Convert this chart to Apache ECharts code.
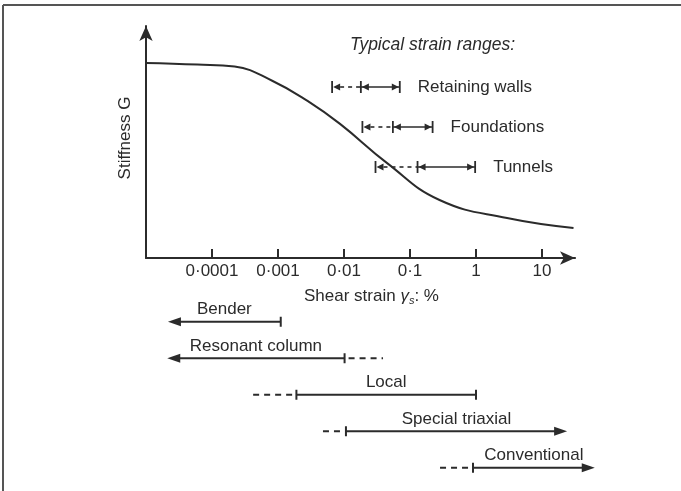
<!DOCTYPE html>
<html>
<head>
<meta charset="utf-8">
<script src="https://cdn.jsdelivr.net/npm/echarts@6/dist/echarts.min.js"></script>
<style>html,body{margin:0;padding:0;background:#fff}#c{width:681px;height:491px}</style>
</head>
<body>
<div id="c"></div>
<script>
// ---- data ----
const strain    = [0.00001, 0.00006, 0.00022, 0.00083, 0.0028, 0.0087, 0.045, 0.28, 2.95, 30];
const stiffness = [84.1, 83.4, 82.5, 76.3, 67.7, 57.8, 40.9, 25.0, 17.2, 12.9];
const tickValues = [0.0001, 0.001, 0.01, 0.1, 1, 10];

const rangeNames = ['Retaining walls', 'Foundations', 'Tunnels'];
const rangeFrom  = [0.0066, 0.019, 0.03];
const rangeMid   = [0.018, 0.055, 0.13];
const rangeTo    = [0.07, 0.22, 0.97];

const instruments = ['Bender', 'Resonant column', 'Local', 'Special triaxial', 'Conventional'];
const dashFrom  = [null, null, 0.00042, 0.0048, 0.285];
const solidFrom = [2.15e-5, 2.1e-5, 0.0019, 0.0107, 0.9];
const solidTo   = [0.0011, 0.0102, 1.0, 24, 63];
const dashTo    = [null, 0.039, null, null, null];
const openFrom  = [true, true, false, false, false];
const openTo    = [false, false, false, true, true];

// ---- style ----
const INK = '#2b2b2b';
const FONT = '"Liberation Sans", Arial, Helvetica, sans-serif';
const FS = 17;
const XMIN = 0.00001, XMAX = 31.6;

function seg(x1, y1, x2, y2, w, dash) {
  const st = { stroke: INK, lineWidth: w };
  if (dash) st.lineDash = dash;
  return { type: 'line', shape: { x1, y1, x2, y2 }, style: st };
}
function tri(pts) {
  return { type: 'polygon', shape: { points: pts }, style: { fill: INK } };
}

function renderRange(params, api) {
  const i = params.dataIndex;
  const a = api.coord([rangeFrom[i], i]);
  const b = api.coord([rangeMid[i], i]);
  const c = api.coord([rangeTo[i], i]);
  const y = a[1];
  const al = 7, ah = 3.5, ch = 6;
  const ch_ = [
    seg(a[0] + 8, y, b[0], y, 1.6, [4, 4]),
    seg(b[0], y, c[0], y, 1.6),
    seg(a[0], y - ch, a[0], y + ch, 1.8),
    seg(b[0], y - ch, b[0], y + ch, 1.8),
    seg(c[0], y - ch, c[0], y + ch, 1.8),
    tri([[a[0] + 1, y], [a[0] + 1 + al, y - ah], [a[0] + 1 + al, y + ah]]),
    tri([[b[0] + 1, y], [b[0] + 1 + al, y - ah], [b[0] + 1 + al, y + ah]]),
    tri([[c[0] - 1, y], [c[0] - 1 - al, y - ah], [c[0] - 1 - al, y + ah]]),
    { type: 'text', x: c[0] + 18, y: y,
      style: { text: rangeNames[i], fill: INK, font: FS + 'px ' + FONT, align: 'left', verticalAlign: 'middle' } }
  ];
  return { type: 'group', children: ch_ };
}

function renderInstrument(params, api) {
  const i = params.dataIndex;
  const p0 = api.coord([solidFrom[i], i]);
  const p1 = api.coord([solidTo[i], i]);
  const y = p0[1];
  const al = 13, ah = 4.5, ch = 5;
  const kids = [];
  let x0 = p0[0], x1 = p1[0];
  if (openFrom[i]) {
    kids.push(tri([[x0, y], [x0 + al, y - ah], [x0 + al, y + ah]]));
    kids.push(seg(x0 + al - 1, y, x1, y, 2.2));
  } else if (openTo[i]) {
    kids.push(tri([[x1, y], [x1 - al, y - ah], [x1 - al, y + ah]]));
    kids.push(seg(x0, y, x1 - al + 1, y, 2.2));
  } else {
    kids.push(seg(x0, y, x1, y, 2.2));
  }
  if (!openFrom[i]) kids.push(seg(x0, y - ch, x0, y + ch, 2));
  if (!openTo[i]) kids.push(seg(x1, y - ch, x1, y + ch, 2));
  if (dashFrom[i] != null) {
    const d = api.coord([dashFrom[i], i]);
    kids.push(seg(d[0], y, x0 - 2, y, 2, [6, 5]));
  }
  if (dashTo[i] != null) {
    const d = api.coord([dashTo[i], i]);
    kids.push(seg(x1 + 4, y, d[0], y, 2, [6, 5]));
  }
  kids.push({ type: 'text', x: (x0 + x1) / 2, y: y - 12,
    style: { text: instruments[i], fill: INK, font: FS + 'px ' + FONT, align: 'center', verticalAlign: 'middle' } });
  return { type: 'group', children: kids };
}

const hiddenX = (gi) => ({
  type: 'log', gridIndex: gi, min: XMIN, max: XMAX, show: false,
  axisLine: { show: false }, axisTick: { show: false }, axisLabel: { show: false }, splitLine: { show: false }
});
const hiddenY = (gi, cats) => ({
  type: 'category', gridIndex: gi, data: cats, inverse: true, show: false,
  axisLine: { show: false }, axisTick: { show: false }, axisLabel: { show: false }, splitLine: { show: false }
});

const chart = echarts.init(document.getElementById('c'), null, { renderer: 'canvas' });
chart.setOption({
  animation: false,
  backgroundColor: '#fff',
  textStyle: { fontFamily: FONT, color: INK },
  title: {
    text: 'Typical strain ranges:', left: 350, top: 36, padding: 0,
    textStyle: { fontSize: 17.5, fontStyle: 'italic', fontWeight: 'normal', color: INK, fontFamily: FONT }
  },
  grid: [
    { left: 146, top: 26, width: 429, height: 232 },
    { left: 146, top: 67, width: 429, height: 120 },
    { left: 146, top: 303.5, width: 429, height: 182.5 }
  ],
  xAxis: [
    {
      type: 'log', gridIndex: 0, min: XMIN, max: XMAX, logBase: 10,
      axisLine: { onZero: false, lineStyle: { color: INK, width: 2.2 }, symbol: ['none', 'arrow'], symbolSize: [10, 15] },
      axisTick: { customValues: tickValues, inside: true, length: 9, lineStyle: { color: INK, width: 2 } },
      axisLabel: { customValues: tickValues, color: INK, fontSize: FS, fontFamily: FONT, margin: 5,
        formatter: v => String(v).replace('.', '·') },
      splitLine: { show: false }, minorTick: { show: false },
      name: '{n|Shear strain }{g|γ}{s|s}{n|: %}',
      nameLocation: 'middle', nameGap: 28,
      nameTextStyle: {
        padding: [0, 0, 0, 22],
        rich: {
          n: { fontSize: FS, fontFamily: FONT, color: INK, lineHeight: 20 },
          g: { fontSize: FS, fontFamily: FONT, color: INK, fontStyle: 'italic', lineHeight: 20 },
          s: { fontSize: 11, fontFamily: FONT, color: INK, fontStyle: 'italic', verticalAlign: 'bottom', lineHeight: 20 }
        }
      }
    },
    hiddenX(1),
    hiddenX(2)
  ],
  yAxis: [
    {
      type: 'value', gridIndex: 0, min: 0, max: 100,
      axisLine: { show: true, lineStyle: { color: INK, width: 2 }, symbol: ['none', 'arrow'], symbolSize: [10, 15] },
      axisTick: { show: false }, axisLabel: { show: false }, splitLine: { show: false },
      name: 'Stiffness G', nameLocation: 'middle', nameGap: 12,
      nameTextStyle: { fontSize: FS, fontFamily: FONT, color: INK, padding: [0, 0, 0, 8] }
    },
    hiddenY(1, rangeNames),
    hiddenY(2, instruments)
  ],
  graphic: [
    { type: 'line', shape: { x1: 3, y1: 5, x2: 681, y2: 5 }, style: { stroke: '#555', lineWidth: 2 } },
    { type: 'line', shape: { x1: 3, y1: 5, x2: 3, y2: 491 }, style: { stroke: '#555', lineWidth: 2 } }
  ],
  series: [
    {
      type: 'line', xAxisIndex: 0, yAxisIndex: 0,
      data: strain.map((s, i) => [s, stiffness[i]]),
      smooth: 0.45, symbol: 'none',
      lineStyle: { color: INK, width: 2 }
    },
    {
      type: 'custom', xAxisIndex: 1, yAxisIndex: 1, clip: false,
      data: rangeNames.map((n, i) => [rangeFrom[i], i]),
      renderItem: renderRange
    },
    {
      type: 'custom', xAxisIndex: 2, yAxisIndex: 2, clip: false,
      data: instruments.map((n, i) => [solidFrom[i], i]),
      renderItem: renderInstrument
    }
  ]
});
</script>
</body>
</html>
